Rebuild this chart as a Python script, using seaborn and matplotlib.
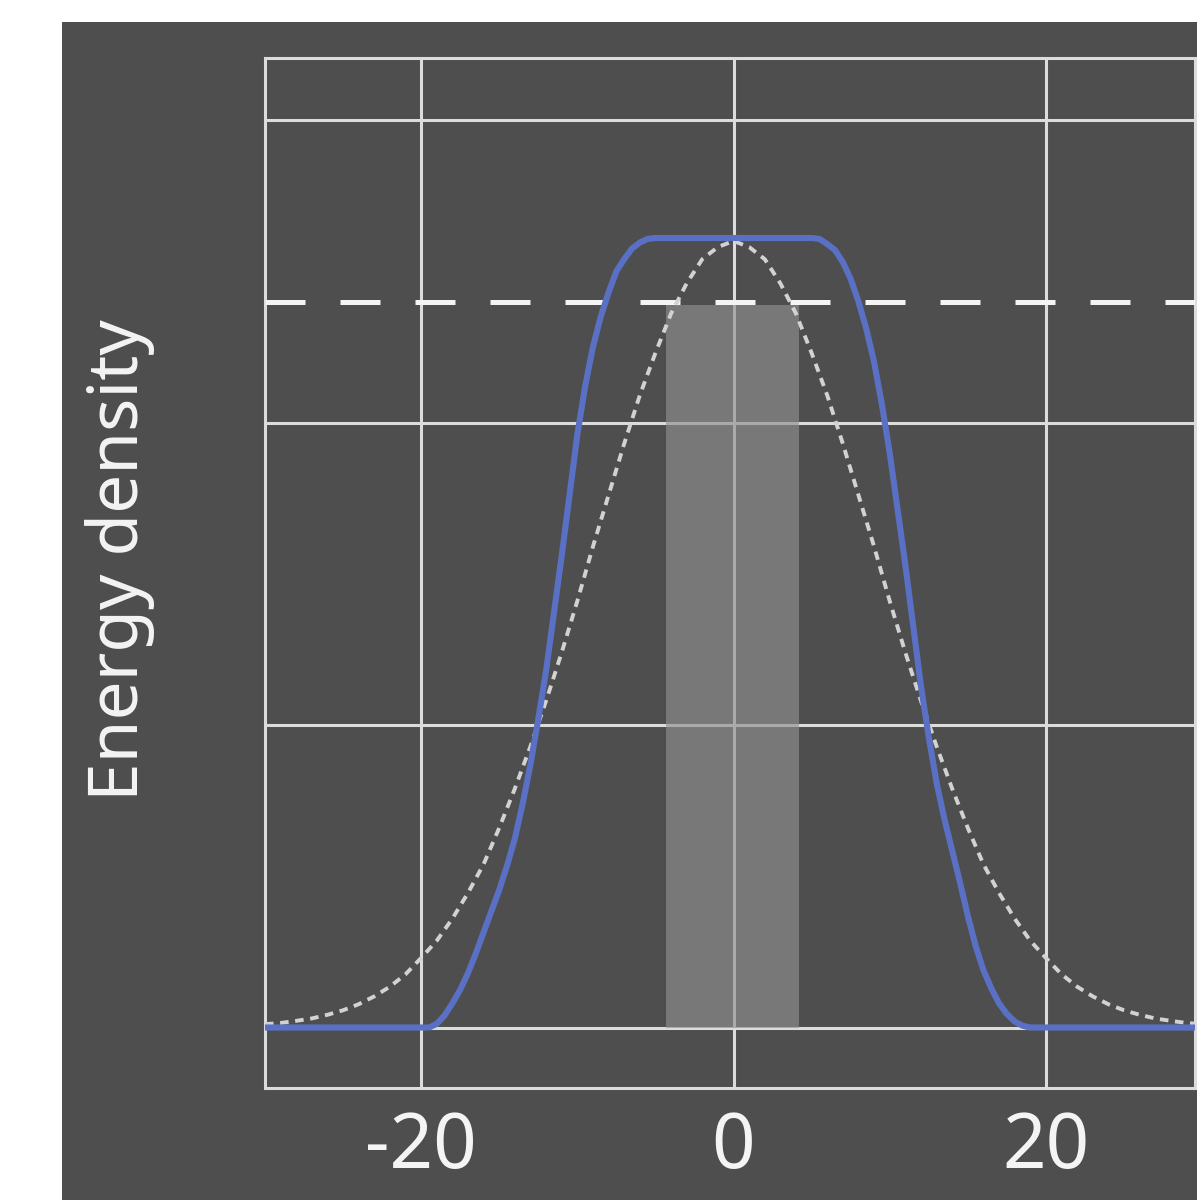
import matplotlib
matplotlib.use('Agg')
import matplotlib.pyplot as plt
import matplotlib.patches as mpatches
import seaborn as sns
import pandas as pd

# flat-top (blue) profile
pulse_x = [-30, -20, -19.5, -19, -18.5, -18, -17.5, -17, -16.5, -16, -15.5, -15, -14.5, -14, -13.5, -13, -12.5, -12, -11, -10,
           -9.5, -9, -8.5, -8, -7.5, -7, -6.5, -6, -5.5, -5, 0, 5, 5.5, 6, 6.5, 7, 7.5, 8, 8.5, 9, 9.5, 10, 11, 12,
           12.5, 13, 13.5, 14, 14.5, 15, 15.5, 16, 16.5, 17, 17.5, 18, 18.5, 19, 30]
pulse_y = [0.0, 0.0, 0.0, 0.012, 0.04, 0.08, 0.125, 0.18, 0.245, 0.315, 0.385, 0.455, 0.535, 0.625, 0.74, 0.87, 1.02, 1.18, 1.56, 1.96,
           2.12, 2.25, 2.35, 2.43, 2.50, 2.54, 2.575, 2.595, 2.607, 2.61, 2.61, 2.61, 2.607, 2.59, 2.57, 2.53, 2.475, 2.40, 2.31, 2.20, 2.06, 1.90, 1.53, 1.13,
           0.96, 0.81, 0.69, 0.585, 0.48, 0.37, 0.27, 0.19, 0.13, 0.08, 0.045, 0.02, 0.006, 0.0, 0.0]

# bell-shaped reference profile (dotted)
ref_x = [-30, -29, -28, -27, -26, -25, -24, -23, -22, -21, -20, -19, -18, -17, -16, -15, -14, -13, -12, -11, -10, -9, -8, -7, -6, -5,
         -4, -3, -2, -1, 0, 1, 2, 3, 4, 5, 6, 7, 8, 9, 10, 11, 12, 13, 14, 15, 16, 17, 18, 19, 20, 21, 22, 23, 24, 25, 26, 27, 28, 29, 30]
ref_y = [0.011, 0.015, 0.022, 0.030, 0.042, 0.057, 0.077, 0.103, 0.135, 0.176, 0.23, 0.287, 0.36, 0.445, 0.54, 0.66, 0.79, 0.93, 1.08, 1.24,
         1.41, 1.59, 1.76, 1.93, 2.09, 2.23, 2.36, 2.46, 2.54, 2.58, 2.60, 2.58, 2.54, 2.46, 2.36, 2.23, 2.09, 1.93, 1.76, 1.59, 1.41,
         1.24, 1.08, 0.93, 0.79, 0.66, 0.54, 0.445, 0.36, 0.287, 0.23, 0.176, 0.135, 0.103, 0.077, 0.057, 0.042, 0.030, 0.022, 0.015, 0.011]

# shaded block and threshold
block_left = -4.3
block_right = 4.2
block_top = 2.39
threshold = 2.4

x_ticks = [-20, 0, 20]
x_tick_labels = ['-20', '0', '20']
y_grid = [0, 1, 2, 3]

bg = '#4e4e4e'
line_c = '#dcdcdc'

sns.set_style('dark')
plt.rcParams['font.family'] = ['Noto Sans', 'DejaVu Sans']

fig = plt.figure(figsize=(11.97, 12), dpi=100, facecolor='white')
fig.patches.append(mpatches.Rectangle((62 / 1197, 0), 1, 1 - 22 / 1200, transform=fig.transFigure,
                                      facecolor=bg, edgecolor='none', zorder=-10))

ax = fig.add_axes([265 / 1197, 1 - 1088 / 1200, (1195 - 265) / 1197, (1088 - 58) / 1200])
ax.set_facecolor(bg)

pulse_df = pd.DataFrame({'x': pulse_x, 'y': pulse_y})
ref_df = pd.DataFrame({'x': ref_x, 'y': ref_y})

ax.bar((block_left + block_right) / 2, block_top, width=block_right - block_left,
       color='#8f8f8f', alpha=0.65, zorder=3, linewidth=0)
ax.axhline(threshold, color='#f4f4f4', lw=3.6, dashes=(8, 7), zorder=4)
sns.lineplot(data=ref_df, x='x', y='y', ax=ax, color='#d2d2d2', lw=2.8, zorder=5, sort=False)
ax.lines[-1].set_dashes((2.2, 1.7))
sns.lineplot(data=pulse_df, x='x', y='y', ax=ax, color='#5a70c4', lw=4.4, zorder=6, sort=False)
ax.lines[-1].set_solid_joinstyle('round')

ax.set_xlim(-30, 29.55)
ax.set_ylim(-0.2, 3.205)
ax.set_xticks(x_ticks)
ax.set_xticklabels(x_tick_labels)
ax.set_yticks(y_grid)
ax.set_yticklabels([])
ax.grid(True, color=line_c, lw=2.2, zorder=2)
ax.set_axisbelow(True)
ax.tick_params(axis='both', length=0, colors='#f4f4f4', labelsize=55, pad=16)
for s in ax.spines.values():
    s.set_visible(True)
    s.set_color(line_c)
    s.set_linewidth(2.2)

ax.set_xlabel('')
ax.set_ylabel('')
fig.text(120 / 1197, 1 - 560 / 1200, 'Energy density', rotation=90, color='#f4f4f4',
         fontsize=50, ha='center', va='center')

fig.savefig('out.png', dpi=100, facecolor='white')
